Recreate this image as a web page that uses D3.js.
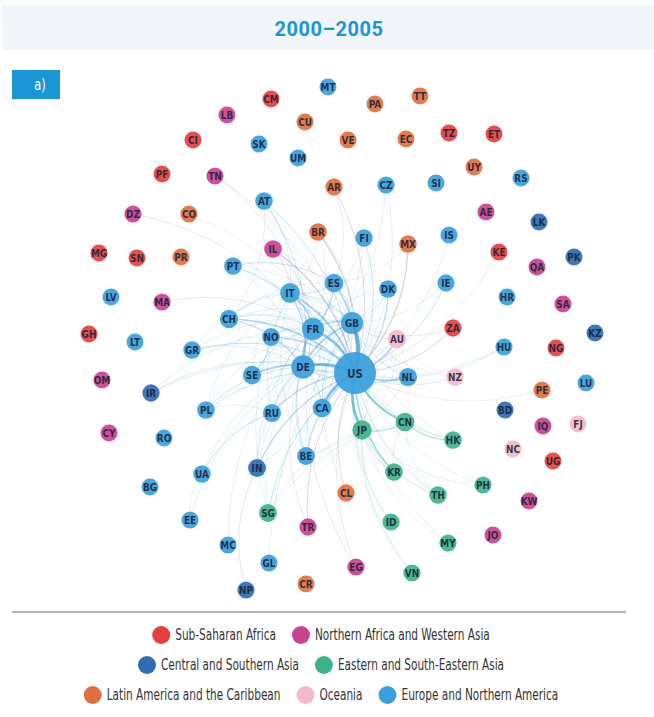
<!DOCTYPE html>
<html>
<head>
<meta charset="utf-8">
<script src="https://cdn.jsdelivr.net/npm/d3@7"></script>
<style>
  body { margin: 0; background: #fff; }
  svg { display: block; }
</style>
</head>
<body>
<div id="chart"></div>
<script>
// 区域（图例）
const regionKeys = ["SSA", "NAWA", "CSA", "ESEA", "LAC", "OCE", "ENA"];
const regionNames = ["Sub-Saharan Africa", "Northern Africa and Western Asia", "Central and Southern Asia",
  "Eastern and South-Eastern Asia", "Latin America and the Caribbean", "Oceania", "Europe and Northern America"];
const regionColors = ["#e5403f", "#c9418f", "#2d6db4", "#3db38b", "#e0703f", "#f4b9cb", "#3a9fdc"];
const legendRows = [[0, 1], [2, 3], [4, 5, 6]];

// 节点：代码, 区域, 布局 x, 布局 y
const nodes = [
  ["MT","ENA",-27,286], ["SK","ENA",-96,229], ["UM","ENA",-57,215], ["AT","ENA",-91,172],
  ["CZ","ENA",31,188], ["SI","ENA",81,190], ["RS","ENA",166,195], ["FI","ENA",9,135],
  ["IS","ENA",94,138], ["PT","ENA",-122,107], ["ES","ENA",-21,90], ["IT","ENA",-65,80],
  ["DK","ENA",33,84], ["IE","ENA",91,90], ["HR","ENA",152,76], ["CH","ENA",-126,54],
  ["FR","ENA",-42,44], ["GB","ENA",-3,50], ["NO","ENA",-84,36], ["LV","ENA",-244,76],
  ["LT","ENA",-220,31], ["GR","ENA",-163,23], ["DE","ENA",-52,6], ["SE","ENA",-103,-2],
  ["US","ENA",0,0], ["NL","ENA",53,-4], ["HU","ENA",149,26], ["LU","ENA",231,-10],
  ["PL","ENA",-149,-37], ["RU","ENA",-83,-40], ["CA","ENA",-33,-35], ["RO","ENA",-191,-65],
  ["BE","ENA",-49,-83], ["UA","ENA",-153,-101], ["BG","ENA",-205,-114], ["EE","ENA",-165,-147],
  ["MC","ENA",-127,-172], ["GL","ENA",-86,-190],
  ["IR","CSA",-204,-20], ["IN","CSA",-98,-95], ["LK","CSA",184,151], ["PK","CSA",219,116],
  ["KZ","CSA",240,40], ["BD","CSA",150,-37], ["NP","CSA",-109,-217],
  ["JP","ESEA",7,-57], ["CN","ESEA",50,-49], ["HK","ESEA",98,-67], ["KR","ESEA",39,-99],
  ["TH","ESEA",83,-122], ["PH","ESEA",128,-112], ["ID","ESEA",36,-149], ["MY","ESEA",93,-170],
  ["VN","ESEA",57,-200], ["SG","ESEA",-87,-140],
  ["PA","LAC",20,269], ["TT","LAC",65,277], ["CU","LAC",-50,251], ["VE","LAC",-7,233],
  ["EC","LAC",51,234], ["UY","LAC",119,206], ["AR","LAC",-21,186], ["CO","LAC",-166,159],
  ["BR","LAC",-37,141], ["MX","LAC",53,129], ["PR","LAC",-174,116], ["CL","LAC",-9,-120],
  ["CR","LAC",-49,-211], ["PE","LAC",187,-17],
  ["AU","OCE",42,34], ["NZ","OCE",100,-4], ["NC","OCE",158,-76], ["FJ","OCE",223,-51],
  ["LB","NAWA",-128,258], ["TN","NAWA",-140,197], ["DZ","NAWA",-222,159], ["IL","NAWA",-82,124],
  ["MA","NAWA",-193,71], ["OM","NAWA",-253,-7], ["CY","NAWA",-246,-60], ["AE","NAWA",131,161],
  ["QA","NAWA",182,106], ["SA","NAWA",208,69], ["IQ","NAWA",188,-53], ["KW","NAWA",174,-128],
  ["JO","NAWA",138,-162], ["TR","NAWA",-47,-154], ["EG","NAWA",1,-194],
  ["CM","SSA",-84,274], ["CI","SSA",-162,233], ["PF","SSA",-193,199], ["TZ","SSA",94,240],
  ["ET","SSA",139,239], ["KE","SSA",144,121], ["MG","SSA",-256,120], ["SN","SSA",-218,115],
  ["GH","SSA",-266,39], ["ZA","SSA",98,45], ["NG","SSA",201,25], ["UG","SSA",198,-88]
];

// 连线：中心节点, 另一端, 权重
const links = [
  ["US","GB",10], ["US","DE",8], ["US","FR",7], ["US","CA",8], ["US","JP",8], ["US","CN",6],
  ["US","IT",5], ["US","ES",4], ["US","NL",5], ["US","AU",5], ["US","DK",3], ["US","SE",4],
  ["US","NO",3], ["US","CH",4], ["US","IE",2], ["US","FI",2], ["US","IS",1], ["US","BR",3],
  ["US","MX",3], ["US","AT",2], ["US","PT",2], ["US","IL",3], ["US","RU",3], ["US","BE",3],
  ["US","IN",3], ["US","KR",4], ["US","ZA",2], ["US","NZ",2], ["US","HK",2], ["US","TH",2],
  ["US","ID",1], ["US","SG",2], ["US","TR",2], ["US","CL",2], ["US","EG",1], ["US","GR",2],
  ["US","PL",2], ["US","AR",2], ["US","HU",1], ["US","PH",1], ["US","MY",1], ["US","VN",1],
  ["US","CZ",1], ["US","IR",1], ["US","KE",1], ["US","TN",1], ["US","CO",1], ["US","PE",1],
  ["GB","FR",4], ["GB","DE",4], ["FR","DE",5], ["DE","IT",3], ["FR","IT",4], ["FR","ES",3],
  ["GB","ES",2], ["DE","NL",2], ["GB","NL",2], ["DE","SE",2], ["GB","IT",2], ["DE","CH",3],
  ["FR","CH",2], ["DE","AT",2], ["DE","RU",2], ["FR","BE",2], ["DE","NO",1], ["SE","NO",2],
  ["SE","FI",1], ["DK","SE",1], ["DE","DK",1], ["DE","PL",2], ["GB","AU",2], ["GB","CA",2],
  ["FR","CA",1], ["GB","IE",1], ["ES","PT",2], ["IT","ES",2], ["GB","IN",1], ["DE","GR",1],
  ["IT","GR",1], ["FR","PT",1], ["GB","CH",1], ["IT","CH",1], ["FR","NO",1], ["GB","SE",1],
  ["DE","BE",1], ["FR","RU",1], ["RU","UA",1], ["DE","UA",1], ["UA","EE",1], ["DE","EE",1],
  ["FR","MC",1], ["DK","GL",1], ["IN","NP",1], ["GB","ZA",1], ["FR","DZ",1], ["FR","MA",1],
  ["FR","TN",1], ["IT","AT",1], ["DE","CZ",1], ["GB","HK",1], ["DE","TR",1], ["FR","BR",1],
  ["ES","MX",1], ["ES","AR",1], ["GB","NZ",1], ["AU","NZ",1], ["FR","IL",1], ["DE","IL",1],
  ["JP","CN",3], ["JP","KR",2], ["CN","HK",3], ["JP","TH",2], ["JP","ID",1], ["CN","KR",1],
  ["JP","SG",1], ["JP","PH",1], ["JP","MY",1], ["JP","VN",1], ["CN","TH",1], ["CN","SG",1],
  ["JP","AU",1], ["CN","AU",1], ["JP","DE",1], ["CN","DE",1], ["JP","GB",1], ["JP","FR",1],
  ["CA","GB",1], ["CA","FR",1], ["IN","GB",1], ["SG","AU",1], ["BE","NL",1], ["FR","EG",1],
  ["GB","PT",1], ["DE","PT",1], ["GB","NO",1], ["DE","FI",1], ["GB","DK",1], ["GB","IL",1],
  ["IT","IL",1], ["GB","RU",1], ["IT","RU",1], ["DE","IN",1], ["FR","IN",1], ["GB","GR",1],
  ["FR","PL",1], ["IT","PL",1], ["GB","BE",1], ["IT","BE",1], ["CA","DE",2], ["CA","IT",1],
  ["CA","AU",1], ["ES","CH",1], ["IT","SE",1], ["FR","SE",1], ["NL","IT",1], ["NL","FR",1],
  ["CH","AT",1], ["DE","HU",1], ["IT","BR",1], ["GB","BR",1], ["ES","CL",1], ["RU","UA",1],
  ["IT","SG",1], ["DE","SG",1], ["FR","IR",1], ["DE","IR",1], ["AU","SG",1], ["RU","PL",1]
];

const width = 654;
const height = 717;

const svg = d3.select("#chart").append("svg")
  .attr("width", width)
  .attr("height", height)
  .style("font-family", "'Liberation Sans Narrow','DejaVu Sans Condensed',Roboto,sans-serif");

// 标题栏
svg.append("rect")
  .attr("x", 2).attr("y", 5).attr("width", 652).attr("height", 45)
  .attr("fill", "#f2f5fa");
svg.append("text")
  .attr("x", 329).attr("y", 36)
  .attr("text-anchor", "middle")
  .style("font-family", "Roboto, 'DejaVu Sans', sans-serif")
  .style("font-weight", 700)
  .style("font-size", "20px")
  .style("letter-spacing", "0.5px")
  .attr("fill", "#1a96d6")
  .text("2000–2005");

// 面板标签 a)
svg.append("rect")
  .attr("x", 12).attr("y", 70).attr("width", 48).attr("height", 29)
  .attr("fill", "#1a96d6");
svg.append("text")
  .attr("transform", "translate(40,90) scale(0.8,1)")
  .attr("text-anchor", "middle")
  .style("font-size", "16px")
  .attr("fill", "#fff")
  .text("a)");

// 比例尺
const x = d3.scaleLinear().domain([-300, 300]).range([55, 655]);
const y = d3.scaleLinear().domain([-300, 300]).range([673, 73]);
const color = d3.scaleOrdinal().domain(regionKeys).range(regionColors);

const nodeMap = new Map(nodes.map(d => [d[0], { id: d[0], region: d[1], lx: d[2], ly: d[3], deg: 0 }]));
links.forEach(l => {
  nodeMap.get(l[0]).deg += l[2];
  nodeMap.get(l[1]).deg += l[2];
});
const nodeList = Array.from(nodeMap.values());
const maxDeg = d3.max(nodeList, d => d.deg);
const r = d3.scaleLinear().domain([0, 40, maxDeg]).range([8.5, 10.5, 21]).clamp(true);
const strokeW = d3.scaleLinear().domain([1, 10]).range([0.65, 3.4]);
const strokeO = d3.scaleLinear().domain([1, 10]).range([0.24, 0.78]);

// 连线层
const edgeLayer = svg.append("g").attr("class", "edges");
edgeLayer.selectAll("path")
  .data(links)
  .enter()
  .append("path")
  .attr("d", l => {
    const a = nodeMap.get(l[1]), b = nodeMap.get(l[0]);
    const x1 = x(a.lx), y1 = y(a.ly), x2 = x(b.lx), y2 = y(b.ly);
    const dx = x2 - x1, dy = y2 - y1;
    const cx = (x1 + x2) / 2 + dy * 0.2, cy = (y1 + y2) / 2 - dx * 0.2;
    return `M${x1},${y1}Q${cx},${cy} ${x2},${y2}`;
  })
  .attr("fill", "none")
  .attr("stroke", l => d3.interpolateRgb(color(nodeMap.get(l[0]).region), color(nodeMap.get(l[1]).region))(0.5))
  .attr("stroke-width", l => strokeW(l[2]))
  .attr("stroke-opacity", l => strokeO(l[2]));

// 节点层
const nodeLayer = svg.append("g").attr("class", "nodes");
const g = nodeLayer.selectAll("g")
  .data(nodeList)
  .enter()
  .append("g")
  .attr("transform", d => `translate(${x(d.lx)},${y(d.ly)})`);

g.append("circle")
  .attr("r", d => r(d.deg))
  .attr("fill", d => color(d.region))
  .attr("fill-opacity", 0.92);

g.append("text")
  .attr("text-anchor", "middle")
  .attr("dy", "0.36em")
  .attr("transform", "scale(0.9,1)")
  .style("font-size", d => d.id === "US" ? "12.5px" : "11px")
  .style("font-weight", 700)
  .attr("fill", "#1a2238")
  .attr("fill-opacity", 0.88)
  .text(d => d.id);

// 分隔线
svg.append("line")
  .attr("x1", 12).attr("x2", 626)
  .attr("y1", 612).attr("y2", 612)
  .attr("stroke", "#9a9a9a")
  .attr("stroke-width", 1.5);

// 图例（文字横向压缩，模拟窄体字）
const squeeze = 0.78;
const legend = svg.append("g").attr("class", "legend");
legendRows.forEach((row, ri) => {
  const rowG = legend.append("g");
  let cursor = 0;
  row.forEach(i => {
    const item = rowG.append("g").attr("transform", `translate(${cursor},0)`);
    item.append("circle")
      .attr("cx", 9).attr("cy", 0).attr("r", 9)
      .attr("fill", regionColors[i]);
    const t = item.append("text")
      .attr("transform", `translate(23,0) scale(${squeeze},1)`)
      .attr("dy", "0.36em")
      .style("font-size", "15px")
      .attr("fill", "#333")
      .text(regionNames[i]);
    cursor += 23 + t.node().getComputedTextLength() * squeeze + 16;
  });
  const total = cursor - 16;
  rowG.attr("transform", `translate(${321 - total / 2},${635 + ri * 30})`);
});
</script>
</body>
</html>
